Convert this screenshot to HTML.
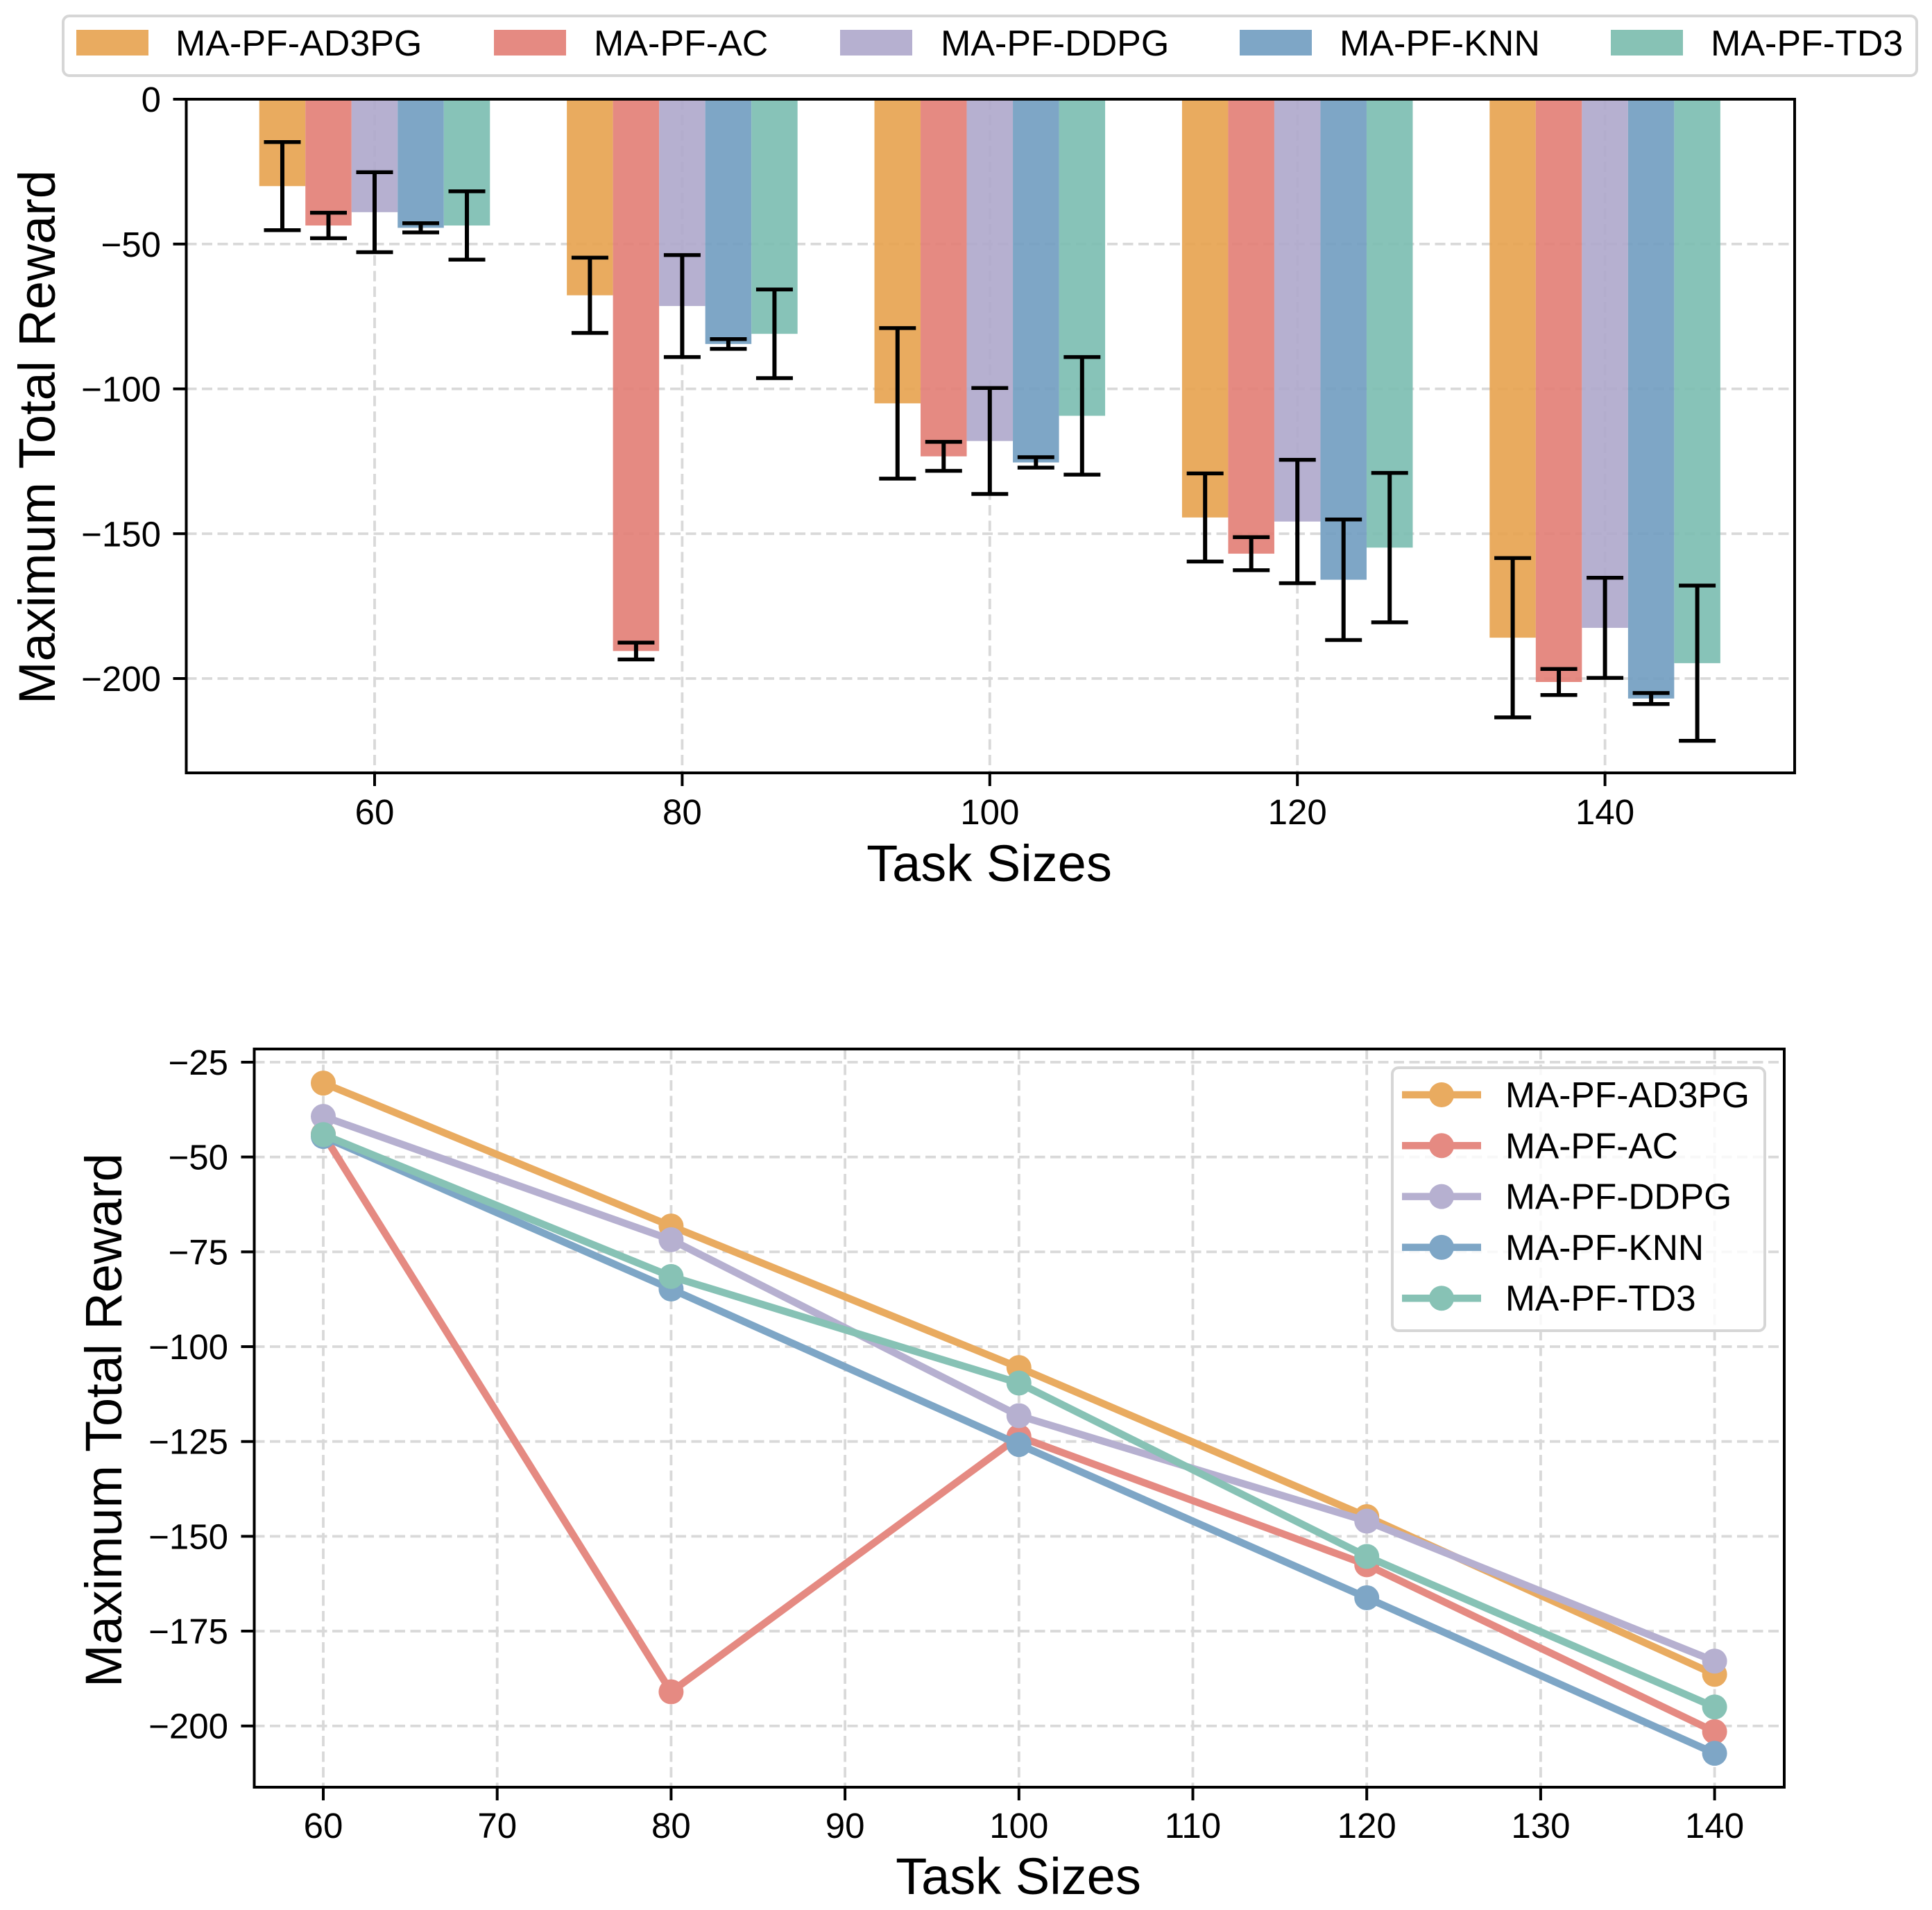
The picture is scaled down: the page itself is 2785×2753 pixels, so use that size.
<!DOCTYPE html>
<html lang="en">
<head>
<meta charset="utf-8">
<title>Maximum Total Reward by Task Size</title>
<style>
html,body{margin:0;padding:0;background:#fff;}
svg{display:block;font-family:"Liberation Sans",Arial,sans-serif;}
</style>
</head>
<body>
<svg id="figure" xmlns="http://www.w3.org/2000/svg" width="2785" height="2753" viewBox="0 0 2785 2753">
  <rect x="0" y="0" width="2785" height="2753" fill="#ffffff"/>
  <g id="bar-chart">
    <g id="bar-grid"></g>
    <g id="bar-marks"></g>
    <g id="bar-errors"></g>
    <g id="bar-axes"></g>
    <text x="1426" y="1270" font-size="74" text-anchor="middle" fill="#000">Task Sizes</text>
    <text transform="translate(79 630) rotate(-90)" font-size="73.8" text-anchor="middle" fill="#000">Maximum Total Reward</text>
  </g>
  <g id="line-chart">
    <g id="line-grid"></g>
    <g id="line-marks"></g>
    <g id="line-axes"></g>
    <text x="1468" y="2730" font-size="74" text-anchor="middle" fill="#000">Task Sizes</text>
    <text transform="translate(175 2047) rotate(-90)" font-size="73.8" text-anchor="middle" fill="#000">Maximum Total Reward</text>
  </g>
  <g id="top-legend">
    <rect x="91" y="23" width="2672" height="86" rx="9" ry="9" fill="#ffffff" stroke="#d6d6d6" stroke-width="4"/>
  </g>
  <g id="line-legend">
    <rect x="2007" y="1539" width="537" height="379" rx="9" ry="9" fill="#ffffff" fill-opacity="0.8" stroke="#d6d6d6" stroke-width="4"/>
  </g>
</svg>
<script>
// ---- shared data ----
const seriesNames = ['MA-PF-AD3PG', 'MA-PF-AC', 'MA-PF-DDPG', 'MA-PF-KNN', 'MA-PF-TD3'];
const seriesColors = ['#E9AB60', '#E58A82', '#B6B0D0', '#7EA6C6', '#87C2B5'];
const barBaseColors = ['#E7A24E', '#E27D74', '#AEA7CB', '#709CC0', '#7ABDB0'];
const taskSizes = [60, 80, 100, 120, 140];

// ---- bar chart values ----
const barAD3PG = [-30, -67.7, -105, -144.4, -185.9];
const barAC = [-43.6, -190.5, -123.3, -156.9, -201.2];
const barDDPG = [-39, -71.4, -118, -145.8, -182.5];
const barKNN = [-44.4, -84.5, -125.4, -165.9, -206.9];
const barTD3 = [-43.6, -81, -109.3, -154.8, -194.7];
const errAD3PG = [15.2, 13, 26, 15.2, 27.5];
const errAC = [4.4, 2.9, 5, 5.7, 4.5];
const errDDPG = [13.8, 17.6, 18.3, 21.3, 17.3];
const errKNN = [1.6, 1.7, 1.8, 20.8, 1.9];
const errTD3 = [11.8, 15.3, 20.3, 25.8, 26.8];
const barXTicks = [60, 80, 100, 120, 140];
const barYTicks = [0, -50, -100, -150, -200];

// ---- line chart values ----
const lineAD3PG = [-30.5, -68.2, -105.5, -144.8, -186.4];
const lineAC = [-44, -191, -123.7, -157.5, -201.5];
const lineDDPG = [-39.3, -71.8, -118.2, -146, -182.9];
const lineKNN = [-44.6, -84.8, -125.8, -166.2, -207.2];
const lineTD3 = [-44.1, -81.5, -109.6, -155.3, -195];
const lineXTicks = [60, 70, 80, 90, 100, 110, 120, 130, 140];
const lineYTicks = [-25, -50, -75, -100, -125, -150, -175, -200];

const barSeries = [barAD3PG, barAC, barDDPG, barKNN, barTD3];
const barErrors = [errAD3PG, errAC, errDDPG, errKNN, errTD3];
const lineSeries = [lineAD3PG, lineAC, lineDDPG, lineKNN, lineTD3];

// ---- axis functions ----
const barPlot = {left: 268.5, right: 2587, top: 143, bottom: 1114};
const linePlot = {left: 366.5, right: 2572, top: 1512, bottom: 2576};
const barX = v => 540 + (v - 60) * 22.17;
const barY = v => 143 - v * 4.175;
const lineX = v => 466 + (v - 60) * 25.07;
const lineY = v => 1531 + (-25 - v) * 5.467;
const BAR_WIDTH_UNITS = 3;

const NS = 'http://www.w3.org/2000/svg';
function make(tag, parentId, props) {
  const node = document.createElementNS(NS, tag);
  for (const k in props) node.setAttribute(k, props[k]);
  document.getElementById(parentId).appendChild(node);
  return node;
}
function fmt(v) { return v < 0 ? '\u2212' + Math.abs(v) : String(v); }

// ---- axes & grid builder ----
function buildAxes(cfg) {
  cfg.xTicks.forEach(t => {
    const gx = make('line', cfg.gridId, {x1: cfg.x(t), x2: cfg.x(t), y1: cfg.plot.top, y2: cfg.plot.bottom, stroke: '#d9d9d9', 'stroke-width': 3.8, 'stroke-dasharray': '15 7.5'});
    
    
    const tick = make('line', cfg.axesId, {x1: cfg.x(t), x2: cfg.x(t), y1: cfg.plot.bottom, y2: cfg.plot.bottom + 19, stroke: '#000', 'stroke-width': 4});
    
    
    const lab = make('text', cfg.axesId, {x: cfg.x(t), y: cfg.xLabelY, 'font-size': 51, 'text-anchor': 'middle', fill: '#000'});
    lab.textContent = fmt(t);
    
    
  });
  cfg.yTicks.forEach(t => {
    const gy = make('line', cfg.gridId, {x1: cfg.plot.left, x2: cfg.plot.right, y1: cfg.y(t), y2: cfg.y(t), stroke: '#d9d9d9', 'stroke-width': 3.8, 'stroke-dasharray': '15 7.5'});
    
    
    const tick = make('line', cfg.axesId, {x1: cfg.plot.left - 19, x2: cfg.plot.left, y1: cfg.y(t), y2: cfg.y(t), stroke: '#000', 'stroke-width': 4});
    
    
    const lab = make('text', cfg.axesId, {x: cfg.yLabelX, y: cfg.y(t) + 18, 'font-size': 51, 'text-anchor': 'end', fill: '#000'});
    lab.textContent = fmt(t);
    
    
  });
  const frame = make('rect', cfg.axesId, {x: cfg.plot.left, y: cfg.plot.top, width: cfg.plot.right - cfg.plot.left, height: cfg.plot.bottom - cfg.plot.top, fill: 'none', stroke: '#000', 'stroke-width': 4});
  
  
}

buildAxes({prefix: 'bar-chart', gridId: 'bar-grid', axesId: 'bar-axes', plot: barPlot, x: barX, y: barY, xTicks: barXTicks, yTicks: barYTicks, xLabelY: 1188, yLabelX: 232});
buildAxes({prefix: 'line-chart', gridId: 'line-grid', axesId: 'line-axes', plot: linePlot, x: lineX, y: lineY, xTicks: lineXTicks, yTicks: lineYTicks, xLabelY: 2649, yLabelX: 329});

// ---- bars & error bars ----
barSeries.forEach((vals, s) => {
  vals.forEach((v, i) => {
    const cx = taskSizes[i] + (s - 2) * BAR_WIDTH_UNITS;
    const x0 = barX(cx - BAR_WIDTH_UNITS / 2);
    const x1 = barX(cx + BAR_WIDTH_UNITS / 2);
    const bar = make('rect', 'bar-marks', {x: x0, y: barY(0), width: x1 - x0, height: barY(v) - barY(0), fill: barBaseColors[s], 'fill-opacity': 0.9});
    
    
    const e = barErrors[s][i];
    const px = barX(cx);
    const stem = make('line', 'bar-errors', {x1: px, x2: px, y1: barY(v + e), y2: barY(v - e), stroke: '#000', 'stroke-width': 6});
    
    
    const capTop = make('line', 'bar-errors', {x1: px - 26.5, x2: px + 26.5, y1: barY(v + e), y2: barY(v + e), stroke: '#000', 'stroke-width': 5.5});
    
    
    const capBottom = make('line', 'bar-errors', {x1: px - 26.5, x2: px + 26.5, y1: barY(v - e), y2: barY(v - e), stroke: '#000', 'stroke-width': 5.5});
    
    
  });
});

// ---- lines & points ----
lineSeries.forEach((vals, s) => {
  const pts = vals.map((v, i) => lineX(taskSizes[i]) + ',' + lineY(v)).join(' ');
  const path = make('polyline', 'line-marks', {points: pts, fill: 'none', stroke: seriesColors[s], 'stroke-width': 10.5, 'stroke-linejoin': 'round'});
  
  
  vals.forEach((v, i) => {
    const dot = make('circle', 'line-marks', {cx: lineX(taskSizes[i]), cy: lineY(v), r: 18, fill: seriesColors[s]});
    
    
  });
});

// ---- top legend ----
const topLegendSwatchLeft = [110, 712, 1211, 1787, 2322];
const topLegendTextLeft = [253, 856, 1356, 1931, 2466];
seriesNames.forEach((name, s) => {
  const sw = make('rect', 'top-legend', {x: topLegendSwatchLeft[s], y: 43, width: 104, height: 37, fill: seriesColors[s]});
  
  
  const t = make('text', 'top-legend', {x: topLegendTextLeft[s], y: 80, 'font-size': 52, fill: '#000'});
  t.textContent = name;
  
  
});

// ---- line chart legend ----
seriesNames.forEach((name, s) => {
  const cy = 1578 + s * 73.3;
  const ln = make('line', 'line-legend', {x1: 2021, x2: 2135, y1: cy, y2: cy, stroke: seriesColors[s], 'stroke-width': 10.5});
  
  
  const dot = make('circle', 'line-legend', {cx: 2078, cy: cy, r: 18, fill: seriesColors[s]});
  
  
  const t = make('text', 'line-legend', {x: 2170, y: cy + 18, 'font-size': 51.5, fill: '#000'});
  t.textContent = name;
  
  
});
</script>
</body>
</html>
